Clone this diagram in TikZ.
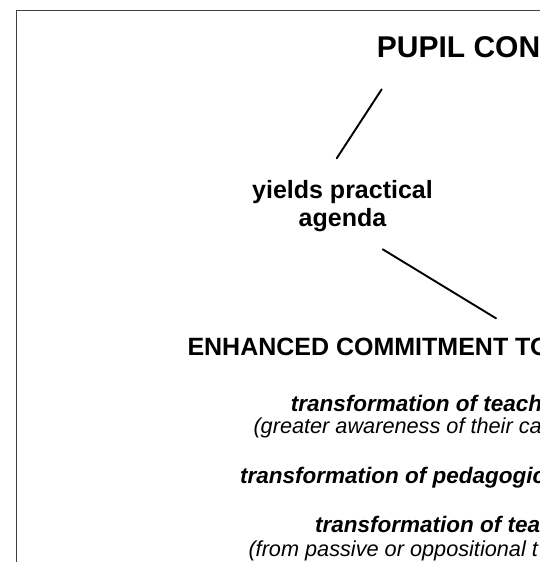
\documentclass[tikz,border=0pt]{standalone}
\usepackage{fontspec}
\setmainfont{Liberation Sans}
\usetikzlibrary{positioning}
\tikzset{
	headline/.style={anchor=base west, inner sep=0pt, font=\bfseries\fontsize{25}{28.7}\selectfont},
	itemline/.style={anchor=base west, inner sep=0pt, font=\bfseries\itshape\fontsize{22.5}{26}\selectfont},
	noteline/.style={anchor=base west, inner sep=0pt, font=\itshape\fontsize{21.7}{25}\selectfont},
	link/.style={line width=1.9pt, line cap=round}
}
\begin{document}
\begin{tikzpicture}[x=1pt, y=1pt]
	\useasboundingbox (0,0) rectangle (540,-562);
	\clip (0,0) rectangle (540,-562);
	%frame
	\draw[line width=1pt, black!75] (16,-10) rectangle (620,-640);
	%title
	\node[headline, font=\bfseries\fontsize{30}{34}\selectfont] (consult) at (376.7,-57.3) {PUPIL CON};
	%agenda
	\node[align=center, inner sep=0pt, anchor=north, font=\bfseries\fontsize{25}{28.7}\selectfont]
	(agenda) at (342.5,-179.8) {yields practical\\agenda};
	\node[headline] (commit) at (187.3,-355) {ENHANCED COMMITMENT TO};
	%transformations
	\node[itemline] (percep) at (290.7,-411) {transformation of teach};
	\node[noteline] (aware) at (253.3,-433.3) {(greater awareness of their ca};
	\node[itemline] (pedag) at (240,-483.5) {transformation of pedagogic};
	\node[itemline] (relat) at (315,-532) {transformation of tea};
	\node[noteline] (passive) at (248.3,-556.7) {(from passive or oppositional t};
	%links
	\draw[link] ([shift={(5,-32)}]consult.base west) -- ([shift={(-5.8,21.5)}]agenda.north);
	\draw[link] ([shift={(40.2,-69.5)}]agenda.north) -- ([shift={(308.7,36.7)}]commit.base west);
\end{tikzpicture}
\end{document}
